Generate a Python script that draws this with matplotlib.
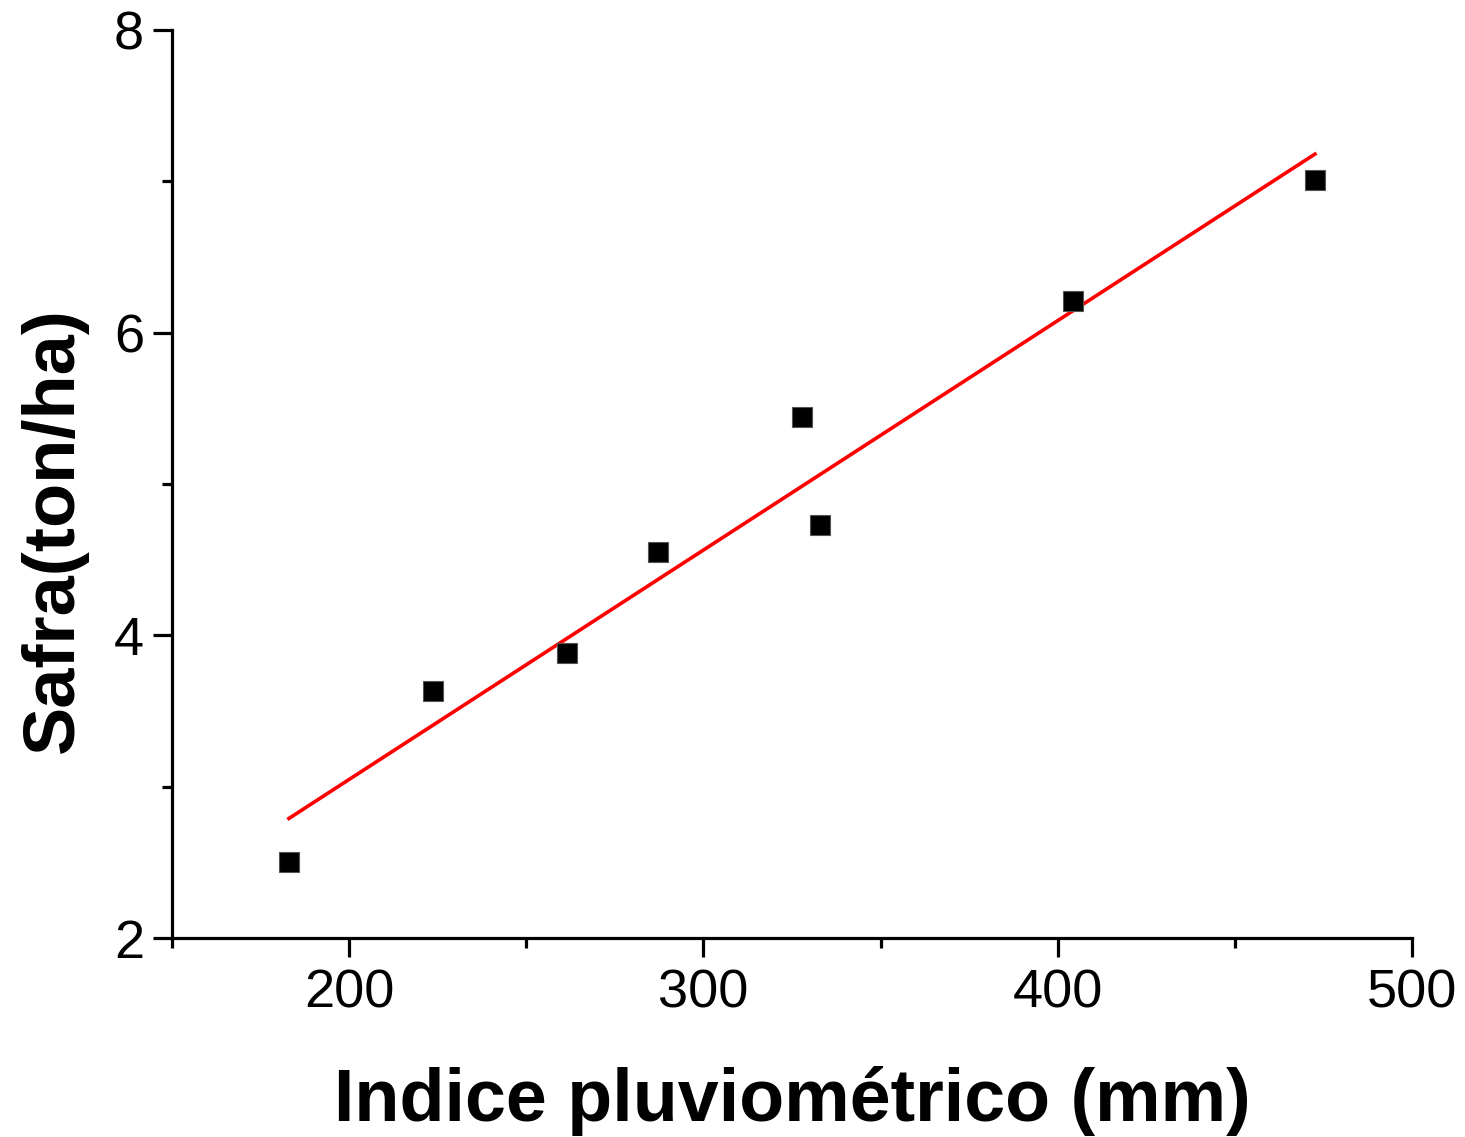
import numpy as np
import matplotlib
matplotlib.use("Agg")
import matplotlib.pyplot as plt
from matplotlib.ticker import MultipleLocator

plt.rcParams['font.family'] = ['Liberation Sans', 'DejaVu Sans']

rain = [183, 223.7, 261.6, 287.3, 327.7, 333, 404.2, 472.6]
yield_ = [2.50, 3.63, 3.88, 4.55, 5.44, 4.73, 6.21, 7.01]
fit_x = [183, 472.6]
fit_y = [2.79, 7.18]

xticks = [200, 300, 400, 500]
yticks = [2, 4, 6, 8]

fig = plt.figure(figsize=(14.65, 11.37), dpi=100)
ax = fig.add_axes([172/1465, 1 - 938/1137, (1412-172)/1465, (938-30)/1137])

ax.plot(rain, yield_, 's', color='black', markersize=14.5, mec='#555555', mew=0.8, zorder=3)
ax.plot(fit_x, fit_y, color='red', lw=2.6, zorder=2)

ax.set_xlim(150, 500)
ax.set_ylim(2, 8)
ax.set_xticks(xticks)
ax.set_yticks(yticks)
ax.xaxis.set_minor_locator(MultipleLocator(50))
ax.yaxis.set_minor_locator(MultipleLocator(1))

for s in ['top', 'right']:
    ax.spines[s].set_visible(False)
for s in ['left', 'bottom']:
    ax.spines[s].set_linewidth(2.3)

ax.tick_params(which='major', length=14, width=2.3, labelsize=39, direction='out')
ax.tick_params(which='minor', length=7, width=2.3, direction='out')
ax.tick_params(axis='x', which='major', pad=8)
ax.tick_params(axis='y', which='major', pad=6)

ax.set_xlabel('Indice pluviométrico (mm)', fontsize=53, fontweight='bold', labelpad=34)
ax.set_ylabel('Safra(ton/ha)', fontsize=52, fontweight='bold')
ax.yaxis.set_label_coords(-0.068, 0.449)

fig.savefig('out.png', dpi=100)
